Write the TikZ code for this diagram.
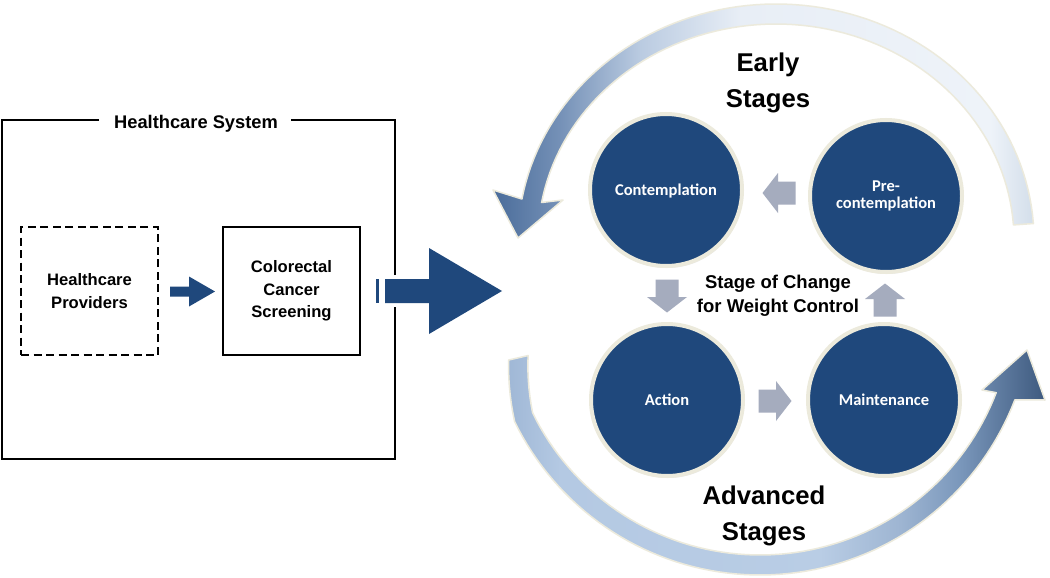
\documentclass[tikz,border=0pt]{standalone}
\usepackage{fontspec}
\setmainfont{Liberation Sans}
\newfontfamily\calib{Carlito}
\usetikzlibrary{shadows}
\definecolor{navy}{RGB}{31,72,124}
\definecolor{cream}{RGB}{236,234,220}
\definecolor{grayarrow}{RGB}{165,172,190}
\definecolor{u1}{RGB}{74,108,154}
\definecolor{u2}{RGB}{117,145,183}
\definecolor{u3}{RGB}{186,203,225}
\definecolor{u4}{RGB}{232,238,246}
\definecolor{u5}{RGB}{238,243,249}
\definecolor{u6}{RGB}{211,222,234}
\definecolor{l1}{RGB}{160,184,214}
\definecolor{l2}{RGB}{180,201,227}
\definecolor{l3}{RGB}{185,205,229}
\definecolor{l4}{RGB}{158,181,210}
\definecolor{l5}{RGB}{122,151,187}
\definecolor{l6}{RGB}{62,90,127}
\pgfdeclarehorizontalshading{upperfade}{100bp}{color(0bp)=(u1); color(25bp)=(u1); color(31.2bp)=(u2); color(38.6bp)=(u3); color(47.9bp)=(u4); color(71bp)=(u5); color(75bp)=(u6); color(100bp)=(u6)}
\pgfdeclarehorizontalshading{lowerfade}{100bp}{color(0bp)=(l1); color(25bp)=(l1); color(29.8bp)=(l2); color(54bp)=(l3); color(61.5bp)=(l4); color(67.1bp)=(l5); color(75bp)=(l6); color(100bp)=(l6)}
\begin{document}
\begin{tikzpicture}[x=1pt,y=-1pt,
  stage/.style={circle, fill=navy, draw=cream, line width=4pt, minimum size=152pt,
    inner sep=0pt, text=white, align=center,
    font=\calib\bfseries\fontsize{16.5}{17.6}\selectfont,
    text height=11pt, text depth=0pt,
    drop shadow={shadow xshift=1pt, shadow yshift=-2pt, opacity=0.18}},
  box/.style={minimum width=137pt, minimum height=128pt, inner sep=0pt,
    line width=2.3pt, align=center,
    font=\bfseries\fontsize{16.6}{22.7}\selectfont},
  bigtext/.style={align=center, inner sep=0pt,
    font=\bfseries\fontsize{25.7}{36}\selectfont},
  garrow/.pic={\fill[grayarrow] (-16.5,-11.5) -- (1,-11.5) -- (1,-20) -- (16.5,0)
      -- (1,20) -- (1,11.5) -- (-16.5,11.5) -- cycle;}]
\useasboundingbox (0,0) rectangle (1050,578);
\fill[white] (0,0) rectangle (1050,578);

% ---------- left: healthcare system ----------
\node[anchor=base, inner sep=0pt, font=\bfseries\fontsize{18.3}{22}\selectfont] (hs) at (196,128.3) {Healthcare System};
\draw[line width=2.2pt] (99,120) -- (2,120) -- (2,459) -- (395,459) -- (395,307);
\draw[line width=2.2pt] (395,275) -- (395,120) -- (291,120);

\node[box, draw, dash pattern=on 8pt off 4.5pt] (prov) at (89.5,291) {Healthcare\\Providers};
\node[box, draw] (crc) at (291.5,291) {Colorectal\\Cancer\\Screening};

\fill[navy] (170,286.5) -- (189,286.5) -- (189,276.5) -- (215,291.5) -- (189,306.5) -- (189,296.5) -- (170,296.5) -- cycle;

\fill[navy] (376,279) rectangle (379,303);
\fill[navy] (385,279) -- (429,279) -- (429,248) -- (502,291) -- (429,334) -- (429,303) -- (385,303) -- cycle;

% ---------- right: curved arrows ----------
\shadedraw[shading=upperfade, draw=cream, line width=1.5pt, line join=round]
  plot[domain=356:190, samples=80] ({776+258*cos(\x)},{240+236*sin(\x)})
  -- (493,190) -- (518,238) -- (563,200)
  -- plot[domain=190:356, samples=80] ({776+238*cos(\x)},{240+216*sin(\x)})
  -- cycle;

\shadedraw[shading=lowerfade, draw=cream, line width=1.5pt, line join=round]
  plot[domain=167:21, samples=80] ({760+(273-15*max(0,\x-154)/13)*cos(\x)},{302+(273-15*max(0,\x-154)/13)*sin(\x)})
  -- (1045,400) -- (1027,350) -- (982,390)
  -- plot[domain=21:167, samples=80] ({760+(253-15*max(0,\x-154)/13)*cos(\x)},{302+(253-15*max(0,\x-154)/13)*sin(\x)})
  -- cycle;

\node[bigtext] (early) at (768,83) {Early\\Stages};
\node[bigtext] (adv) at (764,515.5) {Advanced\\Stages};

% ---------- stages ----------
\node[stage] (contemp) at (666,190) {Contemplation};
\node[stage, text height={}, text depth={}] (precon) at (886,196) {Pre-\\contemplation};
\node[stage] (action) at (667,400) {Action};
\node[stage] (maint) at (884,400) {Maintenance};

\node[align=center, inner sep=0pt, font=\bfseries\fontsize{18.5}{24.4}\selectfont] (soc) at (778,296) {Stage of Change\\for Weight Control};

\pic[rotate=180] at (779,193) {garrow};
\pic at (775,401) {garrow};
\pic[rotate=-90] at (667,296) {garrow};
\pic[rotate=90] at (885,300) {garrow};
\end{tikzpicture}
\end{document}
